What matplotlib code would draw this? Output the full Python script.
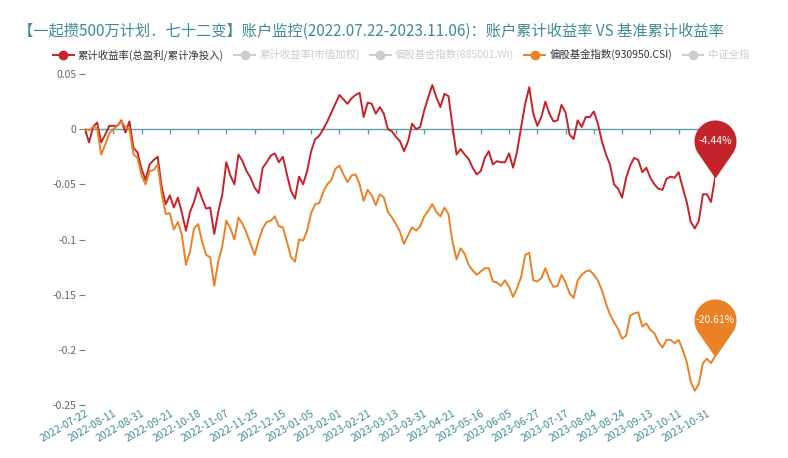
import numpy as np
import matplotlib
matplotlib.use("Agg")
import matplotlib.pyplot as plt
from matplotlib.lines import Line2D
from matplotlib.path import Path

plt.rcParams['font.family'] = ['Noto Sans CJK SC', 'DejaVu Sans']

# ---- data (one value every 2 trading days) ----
day_idx = np.arange(0, 313, 2)

account = [
    0.000, -0.012, 0.002, 0.006, -0.012, -0.005, 0.003, 0.003, 0.003, 0.008,
    -0.003, 0.007, -0.017, -0.021, -0.036, -0.046, -0.032, -0.028, -0.025, -0.053,
    -0.068, -0.060, -0.071, -0.062, -0.076, -0.092, -0.075, -0.066, -0.053, -0.063,
    -0.072, -0.071, -0.095, -0.075, -0.059, -0.030, -0.042, -0.050, -0.023, -0.029,
    -0.038, -0.044, -0.053, -0.058, -0.035, -0.030, -0.024, -0.022, -0.030, -0.025,
    -0.041, -0.056, -0.063, -0.043, -0.050, -0.038, -0.020, -0.009, -0.006, 0.000,
    0.007, 0.015, 0.023, 0.031, 0.027, 0.023, 0.028, 0.031, 0.033, 0.011,
    0.024, 0.023, 0.014, 0.020, 0.014, 0.000, -0.002, -0.007, -0.011, -0.020,
    -0.011, 0.005, 0.000, 0.002, 0.017, 0.029, 0.040, 0.029, 0.020, 0.032,
    0.030, 0.003, -0.023, -0.018, -0.023, -0.027, -0.035, -0.041, -0.038, -0.026,
    -0.020, -0.032, -0.029, -0.030, -0.030, -0.022, -0.035, -0.020, 0.002, 0.023,
    0.038, 0.014, 0.003, 0.011, 0.025, 0.014, 0.007, 0.008, 0.022, 0.015,
    -0.005, -0.009, 0.008, 0.002, 0.011, 0.011, 0.016, 0.005, -0.011, -0.023,
    -0.032, -0.050, -0.054, -0.062, -0.044, -0.033, -0.026, -0.028, -0.039, -0.035,
    -0.044, -0.050, -0.054, -0.055, -0.045, -0.043, -0.044, -0.039, -0.053, -0.066,
    -0.084, -0.090, -0.083, -0.059, -0.059, -0.066, -0.0444,
]

benchmark = [
    0.000, -0.001, 0.002, 0.001, -0.023, -0.014, -0.004, 0.000, 0.003, 0.007,
    0.002, 0.000, -0.023, -0.026, -0.042, -0.050, -0.038, -0.037, -0.032, -0.059,
    -0.077, -0.076, -0.091, -0.084, -0.096, -0.123, -0.111, -0.090, -0.086, -0.102,
    -0.114, -0.116, -0.142, -0.120, -0.106, -0.083, -0.090, -0.100, -0.080, -0.086,
    -0.094, -0.104, -0.114, -0.101, -0.090, -0.084, -0.083, -0.079, -0.088, -0.089,
    -0.102, -0.116, -0.120, -0.100, -0.101, -0.092, -0.076, -0.068, -0.067, -0.057,
    -0.050, -0.046, -0.036, -0.033, -0.041, -0.048, -0.042, -0.041, -0.050, -0.065,
    -0.055, -0.060, -0.069, -0.059, -0.062, -0.075, -0.080, -0.086, -0.093, -0.104,
    -0.096, -0.089, -0.092, -0.088, -0.079, -0.074, -0.068, -0.075, -0.079, -0.071,
    -0.077, -0.102, -0.118, -0.108, -0.113, -0.123, -0.128, -0.132, -0.129, -0.126,
    -0.126, -0.138, -0.139, -0.142, -0.137, -0.143, -0.152, -0.144, -0.134, -0.114,
    -0.112, -0.137, -0.138, -0.135, -0.126, -0.136, -0.143, -0.142, -0.132, -0.139,
    -0.149, -0.153, -0.137, -0.132, -0.129, -0.128, -0.132, -0.137, -0.146, -0.158,
    -0.168, -0.175, -0.181, -0.190, -0.187, -0.169, -0.167, -0.166, -0.179, -0.176,
    -0.182, -0.185, -0.193, -0.198, -0.191, -0.191, -0.194, -0.191, -0.200, -0.211,
    -0.229, -0.237, -0.231, -0.212, -0.208, -0.212, -0.2061,
]

tick_idx = np.arange(0, 309, 14)
tick_labels = [
    '2022-07-22', '2022-08-11', '2022-08-31', '2022-09-21', '2022-10-18',
    '2022-11-07', '2022-11-25', '2022-12-15', '2023-01-05', '2023-02-01',
    '2023-02-21', '2023-03-13', '2023-03-31', '2023-04-21', '2023-05-16',
    '2023-06-05', '2023-06-27', '2023-07-17', '2023-08-04', '2023-08-24',
    '2023-09-13', '2023-10-11', '2023-10-31',
]
y_ticks = [0.05, 0, -0.05, -0.1, -0.15, -0.2, -0.25]
y_tick_labels = ['0.05', '0', '-0.05', '-0.1', '-0.15', '-0.2', '-0.25']

legend_names = ['累计收益率(总盈利/累计净投入)', '累计收益率(市值加权)',
                '偏股基金指数(885001.WI)', '偏股基金指数(930950.CSI)', '中证全指']

title = '【一起攒500万计划．七十二变】账户监控(2022.07.22-2023.11.06)：账户累计收益率 VS 基准累计收益率'

RED = '#c4232b'
ORANGE = '#ea8125'
GREY = '#cccccc'
TEAL = '#3f8c94'
AXIS_TEAL = '#5f9ea5'

# ---- figure ----
W, H = 788, 458
fig = plt.figure(figsize=(W / 100, H / 100), dpi=100)
ax = fig.add_axes([85 / W, 1 - 405 / H, 630 / W, 331 / H])

ax.plot(day_idx, account, color=RED, lw=1.4, zorder=2)
ax.plot(day_idx, benchmark, color=ORANGE, lw=1.4, zorder=3)

ylo, yhi = -0.25, 0.05
ax.set_xlim(0, 312)
ax.set_ylim(ylo, yhi)
for s in ax.spines.values():
    s.set_visible(False)

ax.set_yticks(y_ticks)
ax.set_yticklabels(y_tick_labels)
ax.tick_params(axis='y', length=4, width=0.8, color='#777777',
               labelcolor='#666666', labelsize=7.5, pad=2)

ax.set_xticks(tick_idx)
ax.set_xticklabels(tick_labels)
ax.tick_params(axis='x', length=0, pad=2.5, labelsize=7.5, labelcolor=TEAL)
plt.setp(ax.get_xticklabels(), rotation=30, ha='right', va='top',
         rotation_mode='anchor')

# zero axis line with downward ticks
ax.axhline(0, color=AXIS_TEAL, lw=1, zorder=1)
zero_ax = ax.secondary_xaxis((0 - ylo) / (yhi - ylo))
zero_ax.set_xticks(tick_idx)
zero_ax.set_xticklabels([])
zero_ax.tick_params(axis='x', direction='out', length=3.5, width=1,
                    color=AXIS_TEAL)
zero_ax.spines['bottom'].set_visible(False)
zero_ax.spines['top'].set_visible(False)
zero_ax.xaxis.set_ticks_position('bottom')


# pin markers at the last point
def pin_path(r=21, h=37):
    phi = np.arccos(r / h)
    t = np.linspace(-np.pi / 2 + phi, 3 * np.pi / 2 - phi, 80)
    verts = [(0, 0)] + list(zip(r * np.cos(t), h + r * np.sin(t))) + [(0, 0)]
    return Path(np.array(verts), closed=True)


pin = pin_path()
pin_size = 2 * 58 * 72 / 100
for series, col in [(account, RED), (benchmark, ORANGE)]:
    last = series[-1]
    ax.plot([day_idx[-1]], [last], marker=pin, markersize=pin_size,
            color=col, markeredgewidth=0, clip_on=False, zorder=5)
    ax.annotate(f'{last * 100:.2f}%', (day_idx[-1], last), xytext=(0, 37),
                textcoords='offset pixels', ha='center', va='center',
                color='white', fontsize=7.5, zorder=6)

# title
fig.text(18 / W, 1 - 31 / H, title, ha='left', va='center', fontsize=11,
         color=TEAL)

# legend
leg_colors = [RED, GREY, GREY, ORANGE, GREY]
handles = [Line2D([], [], color=c, lw=1.4, marker='o', markersize=6)
           for c in leg_colors]
leg = fig.legend(handles, legend_names, loc='center',
                 bbox_to_anchor=(401 / W, 1 - 55 / H), ncol=5, frameon=False,
                 fontsize=7.5, handlelength=2.0, handletextpad=0.4,
                 columnspacing=1.0)
for txt, c in zip(leg.get_texts(), ['#333333', GREY, GREY, '#333333', GREY]):
    txt.set_color(c)

fig.savefig('out.png', dpi=100, facecolor='white')
